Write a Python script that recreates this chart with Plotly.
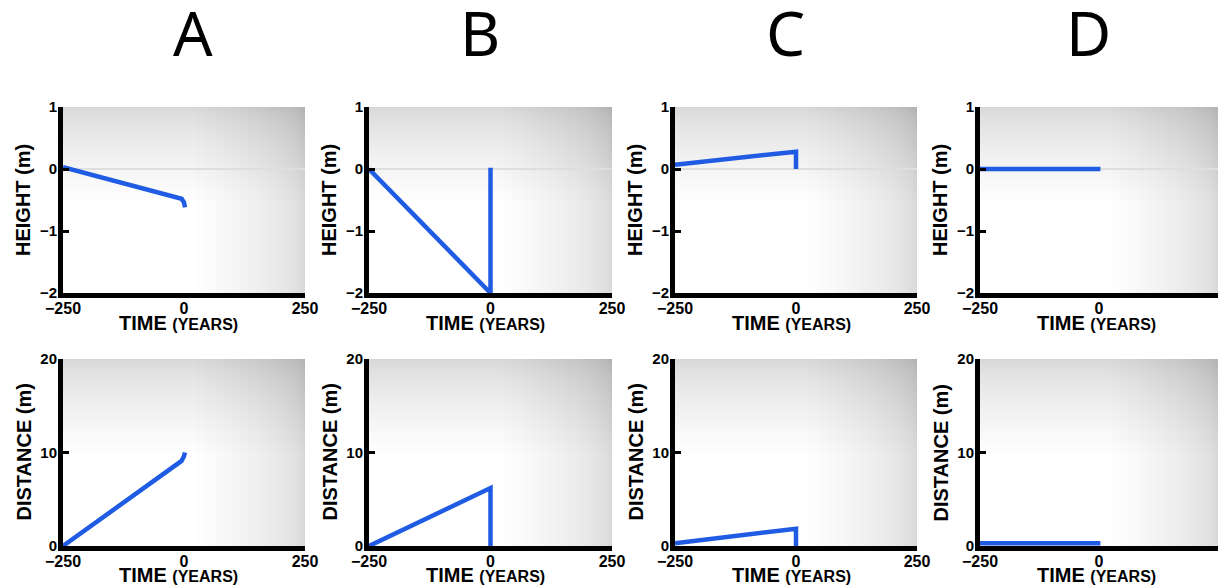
import plotly.graph_objects as go
from plotly.subplots import make_subplots

# panel letters
PANELS = ["A", "B", "C", "D"]

# time (years) and the two series per panel
TIME = {
    "A": [-250, -5, 0, 2],
    "B": [-250, 0, 0],
    "C": [-250, 0, 0],
    "D": [-250, 3],
}
HEIGHT = {
    "A": [0.03, -0.48, -0.54, -0.62],
    "B": [0.0, -2.0, 0.02],
    "C": [0.07, 0.28, 0.0],
    "D": [0.0, 0.0],
}
DISTANCE = {
    "A": [0.0, 9.1, 9.6, 10.0],
    "B": [0.0, 6.2, 0.0],
    "C": [0.3, 1.85, 0.0],
    "D": [0.3, 0.3],
}

X_TICKS = [-250, 0, 250]
H_TICKS = [-2, -1, 0, 1]
D_TICKS = [0, 10, 20]

LINE = "#1f5ce3"
FONT = "Liberation Sans, Arial, sans-serif"

W, H = 1218, 585
COL_X = [(63, 305), (369, 612), (675, 917), (980, 1218)]
ROW_Y = [(107, 293), (359, 546)]
TITLE_X = [193, 480, 785, 1088]
XTITLE_Y = [323, 575]

fig = make_subplots(rows=2, cols=4)

for c, p in enumerate(PANELS):
    for r, ys in enumerate([HEIGHT[p], DISTANCE[p]]):
        fig.add_trace(go.Scatter(
            x=TIME[p], y=ys, mode="lines",
            line=dict(color=LINE, width=4.5),
            showlegend=False, hoverinfo="skip",
        ), row=r + 1, col=c + 1)

title_font = dict(family=FONT, size=20, color="black", weight="bold")

for r in range(2):
    for c in range(4):
        idx = r * 4 + c + 1
        xa = "xaxis" if idx == 1 else f"xaxis{idx}"
        ya = "yaxis" if idx == 1 else f"yaxis{idx}"
        x0, x1 = COL_X[c]
        y0, y1 = ROW_Y[r]
        fig.layout[xa].update(
            domain=[x0 / W, min(x1 / W, 1.0)],
            range=[-250, 250], tickvals=X_TICKS, automargin=False,
            showline=True, linecolor="black", linewidth=5,
            ticks="", showgrid=False, zeroline=False,
            ticklabelstandoff=-3,
            tickfont=dict(family=FONT, size=16, color="black", weight="bold"),
        )
        if r == 0:
            yr, yt, ytitle = [-2, 1], H_TICKS, "HEIGHT (m)"
        else:
            yr, yt, ytitle = [0, 20], D_TICKS, "DISTANCE (m)"
        fig.layout[ya].update(
            domain=[1 - y1 / H, 1 - y0 / H],
            range=yr, tickvals=yt, automargin=False,
            showline=True, linecolor="black", linewidth=5,
            ticks="inside", ticklen=6, tickwidth=3, tickcolor="black",
            showgrid=False,
            zeroline=(r == 0), zerolinecolor="#dedede", zerolinewidth=2,
            ticklabelstandoff=-2,
            tickfont=dict(family=FONT, size=15, color="black", weight="bold"),
        )

        # axis titles placed as annotations for exact positioning
        fig.add_annotation(
            text="TIME <span style='font-size:16px'>(YEARS)</span>",
            x=((x0 + 305 - 63 + x0) / 2 - 5) / W, y=1 - XTITLE_Y[r] / H,
            xref="paper", yref="paper", showarrow=False,
            xanchor="center", yanchor="middle", font=title_font,
        )
        fig.add_annotation(
            text=ytitle, textangle=-90,
            x=(x0 - 40) / W, y=1 - (y0 + y1) / 2 / H,
            xref="paper", yref="paper", showarrow=False,
            xanchor="center", yanchor="middle", font=title_font,
        )

        xr = "x domain" if idx == 1 else f"x{idx} domain"
        yrf = "y domain" if idx == 1 else f"y{idx} domain"
        # soft grey vignette towards the top and right edges
        for k in range(1, 21):
            fig.add_shape(type="rect", xref=xr, yref=yrf,
                          x0=0, x1=1, y0=1 - 0.5 * (k / 20) ** 1.5, y1=1,
                          fillcolor="rgba(0,0,0,0.0075)", line_width=0,
                          layer="below")
        for k in range(1, 21):
            fig.add_shape(type="rect", xref=xr, yref=yrf,
                          x0=1 - 0.45 * (k / 20) ** 1.8, x1=1, y0=0, y1=1,
                          fillcolor="rgba(0,0,0,0.0085)", line_width=0,
                          layer="below")

for p, tx in zip(PANELS, TITLE_X):
    fig.add_annotation(text=p, x=tx / W, y=1 - 32 / H, xref="paper", yref="paper",
                       showarrow=False, xanchor="center", yanchor="middle",
                       font=dict(family="Noto Sans, Noto Sans CJK JP", size=62,
                                 color="black"))

fig.update_layout(
    width=W, height=H,
    margin=dict(l=0, r=0, t=0, b=0),
    paper_bgcolor="white", plot_bgcolor="white",
)

# drop the page's default body margin so the figure sits at the window corner
fig.write_html("out.html", config={"displayModeBar": False},
               post_script="document.body.style.margin='0';")
